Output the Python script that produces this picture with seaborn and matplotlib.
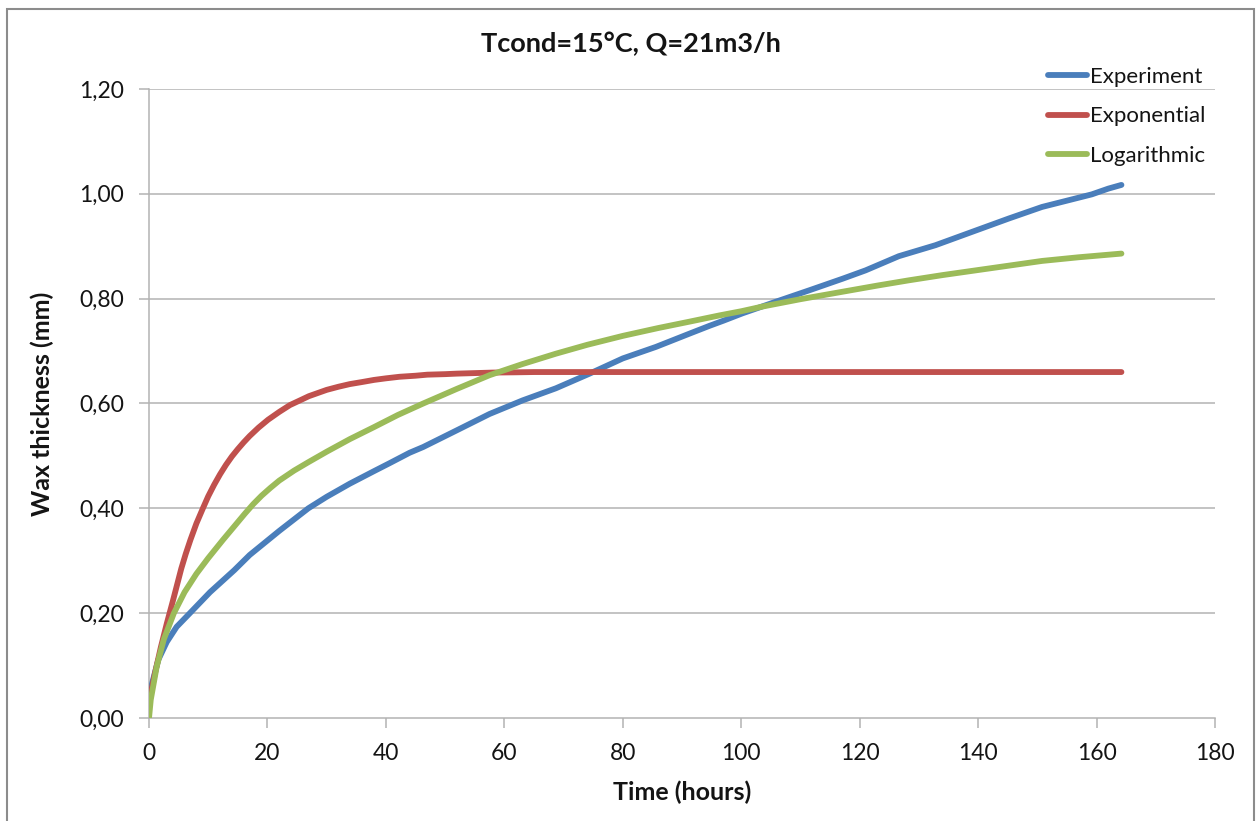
import numpy as np
import pandas as pd
import seaborn as sns
import matplotlib
matplotlib.use("Agg")
import matplotlib.pyplot as plt
from matplotlib.patches import Rectangle
from matplotlib.lines import Line2D

# --- data -------------------------------------------------------------
series_names = ["Experiment", "Exponential", "Logarithmic"]
series_colors = ["#4A7EBB", "#C0504D", "#9BBB59"]

exp_time = [0, 0.5, 1.57, 3, 4.67, 6.9, 10.3, 14.4, 17, 22, 26.9, 30, 33.9, 38,
            40.6, 44, 46.3, 52, 57.5, 63.1, 68.7, 74.4, 80, 85.6, 91.2, 94.6,
            97, 100.2, 105.8, 111.5, 117.1, 121, 126.6, 132.8, 139.6, 145.2,
            150.8, 156.4, 159.2, 162, 164.2]
exp_thick = [0.034, 0.065, 0.111, 0.145, 0.174, 0.200, 0.240, 0.282, 0.311,
             0.357, 0.400, 0.422, 0.447, 0.471, 0.486, 0.506, 0.517, 0.549,
             0.580, 0.606, 0.629, 0.657, 0.686, 0.708, 0.733, 0.748, 0.758,
             0.772, 0.794, 0.816, 0.838, 0.854, 0.881, 0.902, 0.930, 0.953,
             0.975, 0.991, 0.999, 1.010, 1.017]

expo_time = [0, 1, 2, 3, 4, 5.45, 6.2, 7, 8, 9.1, 10, 11, 12, 13, 14, 15, 16,
             17, 18.5, 20.1, 22, 23.8, 25.5, 27, 28.5, 30, 32, 33.9, 36, 38,
             40, 42.3, 45, 47, 50, 52, 55, 58, 62, 65, 70, 80, 100, 120, 140,
             164.2]
expo_thick = [0.030, 0.085, 0.135, 0.180, 0.222, 0.285, 0.313, 0.340, 0.371,
              0.400, 0.423, 0.445, 0.465, 0.483, 0.499, 0.513, 0.526, 0.538,
              0.554, 0.569, 0.584, 0.597, 0.606, 0.614, 0.620, 0.626, 0.632,
              0.637, 0.641, 0.645, 0.648, 0.651, 0.653, 0.655, 0.656, 0.657,
              0.658, 0.659, 0.6595, 0.660, 0.660, 0.660, 0.660, 0.660, 0.660,
              0.660]

log_time = [0, 0.3, 1.3, 2.5, 4.2, 6, 8, 10, 12.5, 14.5, 16.2, 17.6, 19, 20.5,
            22, 24.5, 26.9, 30, 33.9, 38, 42, 46.3, 52, 57.5, 63, 68.7, 74,
            80, 86, 91.2, 96.3, 100, 103.6, 110, 117, 123, 128.3, 134, 139.6,
            145.2, 150.8, 157, 164.2]
log_thick = [0.0, 0.035, 0.098, 0.150, 0.200, 0.240, 0.275, 0.305, 0.340,
             0.367, 0.390, 0.408, 0.424, 0.439, 0.453, 0.472, 0.488, 0.508,
             0.532, 0.555, 0.578, 0.600, 0.628, 0.654, 0.675, 0.695, 0.712,
             0.729, 0.744, 0.756, 0.768, 0.776, 0.785, 0.799, 0.813, 0.825,
             0.835, 0.845, 0.854, 0.863, 0.872, 0.879, 0.886]

x_ticks = [0, 20, 40, 60, 80, 100, 120, 140, 160, 180]
y_ticks = [0.0, 0.2, 0.4, 0.6, 0.8, 1.0, 1.2]
y_ticklabels = ["0,00", "0,20", "0,40", "0,60", "0,80", "1,00", "1,20"]

title_text = "Tcond=15°C, Q=21m3/h"
x_label = "Time (hours)"
y_label = "Wax thickness (mm)"

# --- long-form table for seaborn -------------------------------------
df = pd.concat([
    pd.DataFrame({"t": exp_time, "v": exp_thick, "series": series_names[0]}),
    pd.DataFrame({"t": expo_time, "v": expo_thick, "series": series_names[1]}),
    pd.DataFrame({"t": log_time, "v": log_thick, "series": series_names[2]}),
], ignore_index=True)

sns.set_theme(style="white")
plt.rcParams["font.family"] = ["Lato", "DejaVu Sans"]

W, H = 1258, 821
fig = plt.figure(figsize=(W / 100, H / 100), dpi=100)
ax = fig.add_axes([149 / W, 1 - 718 / H, (1215 - 149) / W, (718 - 89) / H])

grid_c = "#B3B3B3"
text_c = "#141414"
for yv in y_ticks[1:]:
    ax.axhline(yv, color=grid_c, lw=1.1, zorder=0)

line_w = 4.2
sns.lineplot(data=df, x="t", y="v", hue="series", hue_order=series_names,
             palette=dict(zip(series_names, series_colors)), estimator=None,
             lw=line_w, ax=ax, legend=False, zorder=3)
for ln in ax.get_lines():
    ln.set_solid_capstyle("round")
    ln.set_solid_joinstyle("round")

ax.set_xlim(0, 180)
ax.set_ylim(0, 1.2)
ax.set_xticks(x_ticks)
ax.set_xticklabels([str(v) for v in x_ticks])
ax.set_yticks(y_ticks)
ax.set_yticklabels(y_ticklabels)
ax.tick_params(axis="both", which="major", direction="out", length=7,
               width=1.1, color=grid_c, labelsize=16.5, labelcolor=text_c,
               pad=11, bottom=True, left=True)
for side in ("top", "right"):
    ax.spines[side].set_visible(False)
for side in ("left", "bottom"):
    ax.spines[side].set_color(grid_c)
    ax.spines[side].set_linewidth(1.1)

ax.set_xlabel(x_label, fontsize=18, fontweight="bold", color=text_c,
              labelpad=12)
ax.set_ylabel(y_label, fontsize=18, fontweight="bold", color=text_c,
              labelpad=18)
fig.text(631 / W, 1 - 44 / H, title_text, ha="center", va="center",
         fontsize=19.5, fontweight="bold", color=text_c)

# legend in the upper right corner
handles = [Line2D([0], [0], color=c, lw=line_w, solid_capstyle="round")
           for c in series_colors]
fig.legend(handles, series_names, loc="upper left",
           bbox_to_anchor=(1048 / W, 1 - 67 / H), frameon=False,
           fontsize=16, handlelength=1.75, handletextpad=0.15,
           labelspacing=0.87, borderpad=0, borderaxespad=0,
           labelcolor=text_c)

# chart-area border
fig.patches.append(Rectangle((7 / W, -0.01), (1254 - 7) / W, 1 - 9 / H + 0.01,
                             transform=fig.transFigure, fill=False,
                             edgecolor="#8C8C8C", lw=1.5))

fig.savefig("out.png", dpi=100)
